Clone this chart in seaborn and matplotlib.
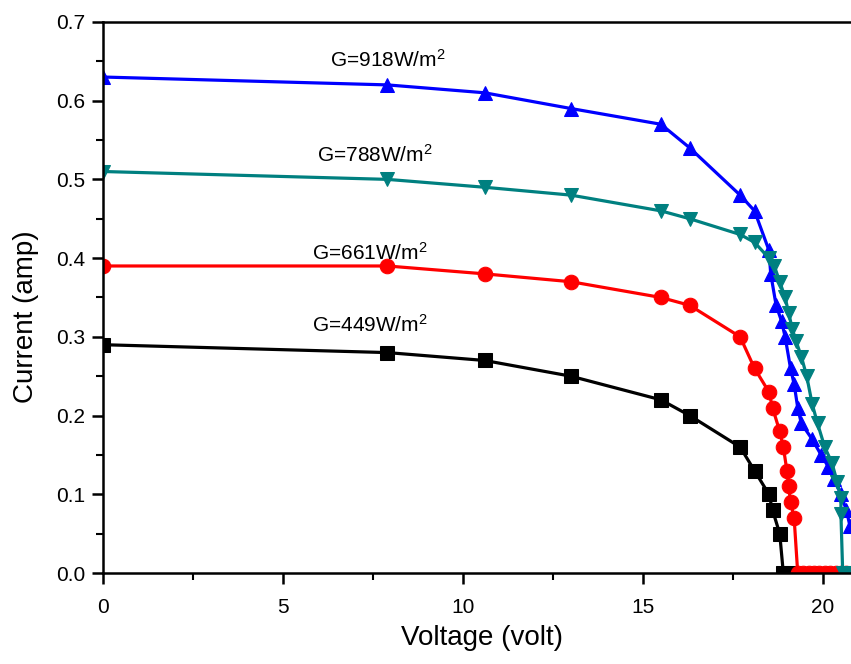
import numpy as np
import pandas as pd
import matplotlib
matplotlib.use('Agg')
import matplotlib.pyplot as plt
from matplotlib.ticker import MultipleLocator, FormatStrFormatter
import seaborn as sns

# I-V curves (voltage in volt, current in amp)
v_918 = [0, 7.9, 10.6, 13.0, 15.5, 16.3, 17.7, 18.1, 18.5, 18.55, 18.7, 18.85, 18.95,
         19.1, 19.2, 19.3, 19.4, 19.7, 19.95, 20.15, 20.3, 20.5, 20.65, 20.75]
i_918 = [0.63, 0.62, 0.61, 0.59, 0.57, 0.54, 0.48, 0.46, 0.41, 0.38, 0.34, 0.32, 0.30,
         0.26, 0.24, 0.21, 0.19, 0.17, 0.15, 0.135, 0.12, 0.10, 0.08, 0.06]

v_788 = [0, 7.9, 10.6, 13.0, 15.5, 16.3, 17.7, 18.1, 18.5, 18.65, 18.8, 18.95, 19.05,
         19.15, 19.25, 19.4, 19.55, 19.7, 19.85, 20.05, 20.25, 20.4, 20.5, 20.5, 20.55, 20.7]
i_788 = [0.51, 0.50, 0.49, 0.48, 0.46, 0.45, 0.43, 0.42, 0.40, 0.39, 0.37, 0.35, 0.33,
         0.31, 0.295, 0.275, 0.25, 0.215, 0.19, 0.16, 0.14, 0.115, 0.095, 0.075, 0.0, 0.0]

v_661 = [0, 7.9, 10.6, 13.0, 15.5, 16.3, 17.7, 18.1, 18.5, 18.6, 18.8, 18.9, 19.0, 19.05,
         19.1, 19.2, 19.3, 19.45, 19.6, 19.75, 19.9, 20.05, 20.2, 20.35, 20.5, 20.65]
i_661 = [0.39, 0.39, 0.38, 0.37, 0.35, 0.34, 0.30, 0.26, 0.23, 0.21, 0.18, 0.16, 0.13, 0.11,
         0.09, 0.07, 0.0, 0.0, 0.0, 0.0, 0.0, 0.0, 0.0, 0.0, 0.0, 0.0]

v_449 = [0, 7.9, 10.6, 13.0, 15.5, 16.3, 17.7, 18.1, 18.5, 18.6, 18.8, 18.9, 19.05]
i_449 = [0.29, 0.28, 0.27, 0.25, 0.22, 0.20, 0.16, 0.13, 0.10, 0.08, 0.05, 0.0, 0.0]

# drawing order: black, red, blue, then teal on top (as in the original)
series = [
    ('G=449W/m$^2$', v_449, i_449, '#000000', 's', 5.8, 0.315),
    ('G=661W/m$^2$', v_661, i_661, '#FF0000', 'o', 5.8, 0.407),
    ('G=918W/m$^2$', v_918, i_918, '#0000FF', '^', 6.3, 0.652),
    ('G=788W/m$^2$', v_788, i_788, '#008080', 'v', 5.95, 0.531),
]

sns.set_style('ticks')
plt.rcParams['font.family'] = ['Liberation Sans', 'DejaVu Sans']
plt.rcParams['mathtext.fontset'] = 'custom'
plt.rcParams['mathtext.rm'] = 'Liberation Sans'
plt.rcParams['mathtext.it'] = 'Liberation Sans'
plt.rcParams['mathtext.default'] = 'regular'
for k in ['axes.edgecolor', 'axes.labelcolor', 'xtick.color', 'ytick.color', 'text.color']:
    plt.rcParams[k] = 'black'

fig = plt.figure(figsize=(8.51, 6.64), dpi=100)
ax = fig.add_axes([0.121, 0.137, 0.879, 0.830])

for label, v, i, color, marker, tx, ty in series:
    df = pd.DataFrame({'V': v, 'I': i})
    sns.lineplot(data=df, x='V', y='I', ax=ax, color=color, marker=marker,
                 markersize=10.5, markeredgecolor=color, linewidth=2.3,
                 sort=False, estimator=None, legend=False)
    ax.text(tx, ty, label, fontsize=15, va='center', ha='left')

ax.set_xlim(0, 20.78)
ax.set_ylim(0, 0.7)
ax.xaxis.set_major_locator(MultipleLocator(5))
ax.xaxis.set_minor_locator(MultipleLocator(2.5))
ax.yaxis.set_major_locator(MultipleLocator(0.1))
ax.yaxis.set_minor_locator(MultipleLocator(0.05))
ax.yaxis.set_major_formatter(FormatStrFormatter('%.1f'))
ax.tick_params(which='major', direction='out', length=8, width=1.8, labelsize=15)
ax.tick_params(which='minor', direction='out', length=5, width=1.5)
ax.tick_params(axis='x', which='major', pad=10)
ax.tick_params(axis='y', which='major', pad=5)

for s in ['left', 'bottom', 'top']:
    ax.spines[s].set_linewidth(1.8)
ax.spines['right'].set_visible(False)

ax.set_xlabel('Voltage (volt)', fontsize=20)
ax.set_ylabel('Current (amp)', fontsize=20)
ax.xaxis.set_label_coords(0.507, -0.094)
ax.yaxis.set_label_coords(-0.086, 0.466)

fig.savefig('out.png', dpi=100)
